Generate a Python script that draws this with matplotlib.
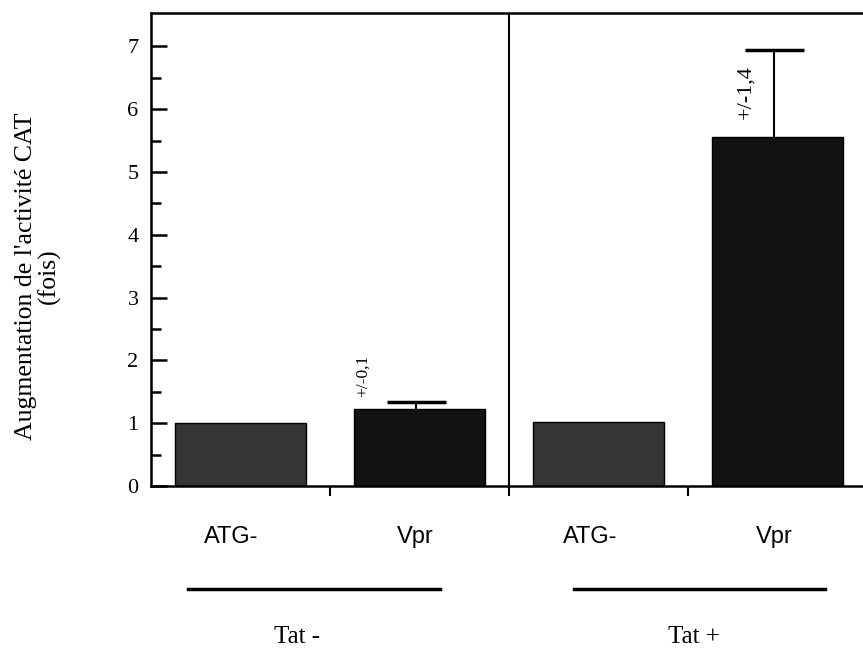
import matplotlib.pyplot as plt
from matplotlib.transforms import blended_transform_factory
import numpy as np

# donnees
conditions = ["ATG-", "Vpr", "ATG-", "Vpr"]
groupes = ["Tat -", "Tat +"]
valeurs = [1.01, 1.22, 1.02, 5.55]
erreurs = [0.0, 0.12, 0.0, 1.39]
textes_erreur = ["", "+/-0,1", "", "+/-1,4"]
couleurs = ["#353535", "#121212", "#353535", "#121212"]

serif = ["Liberation Serif", "DejaVu Serif"]
sans = ["Liberation Sans", "DejaVu Sans"]

fig = plt.figure(figsize=(8.63, 6.49), dpi=100)
ax = fig.add_axes([0.175, 0.251, 0.830, 0.729])

x = np.arange(len(valeurs)) + 0.5
ax.bar(x, valeurs, width=0.73, color=couleurs, edgecolor="black", linewidth=1, zorder=2)

# barres d'erreur vers le haut seulement
for xi, v, e in zip(x, valeurs, erreurs):
    if e > 0:
        xe = xi - 0.02
        ax.vlines(xe, v, v + e, color="black", linewidth=1.5, zorder=3)
        ax.hlines(v + e, xe - 0.165, xe + 0.165, color="black", linewidth=2.5, zorder=3)

# textes +/- tournes
pos_texte = {1: (1.18, 1.42, 12.5), 3: (3.32, 5.85, 16)}
for i, (px, py, fs) in pos_texte.items():
    ax.text(px, py, textes_erreur[i], rotation=90, ha="center", va="bottom",
            fontsize=fs, family=serif)

# separation Tat- / Tat+
ax.axvline(2, color="black", linewidth=1.5, zorder=1)

ax.set_xlim(0, 4)
ax.set_ylim(0, 7.53)
ax.set_yticks(range(0, 8))
ax.set_yticks(np.arange(0.5, 7.5, 1), minor=True)
ax.set_yticklabels([str(i) for i in range(0, 8)], fontsize=16, family=serif)
ax.tick_params(axis="y", which="major", direction="in", length=11.5, width=1.8, pad=9)
ax.tick_params(axis="y", which="minor", direction="in", length=7.5, width=1.8)
ax.set_xticks([1, 2, 3])
ax.set_xticklabels([])
ax.tick_params(axis="x", direction="out", length=7, width=1.5)
for s in ax.spines.values():
    s.set_linewidth(1.8)

ax.text(-0.158, 0.444, "Augmentation de l'activité CAT\n(fois)", transform=ax.transAxes,
        rotation=90, ha="center", va="center", multialignment="center",
        fontsize=18.5, family=serif, linespacing=1.0)

# etiquettes sous l'axe
trans = blended_transform_factory(ax.transData, fig.transFigure)
decalages = [-0.053, -0.025, -0.05, -0.02]
for xi, c, d in zip(x, conditions, decalages):
    fig.text(xi + d, 0.173, c, transform=trans, ha="center", va="center",
             fontsize=17, family=sans)

lignes = [(0.207, 1.615), (2.36, 3.765)]
centres = [0.816, 3.03]
for g, (x0, x1), xc in zip(groupes, lignes, centres):
    fig.add_artist(plt.Line2D([x0, x1], [0.093, 0.093], transform=trans,
                              color="black", linewidth=2.5))
    fig.text(xc, 0.018, g, transform=trans, ha="center", va="center",
             fontsize=18, family=serif)

fig.savefig("out.png", dpi=100)
